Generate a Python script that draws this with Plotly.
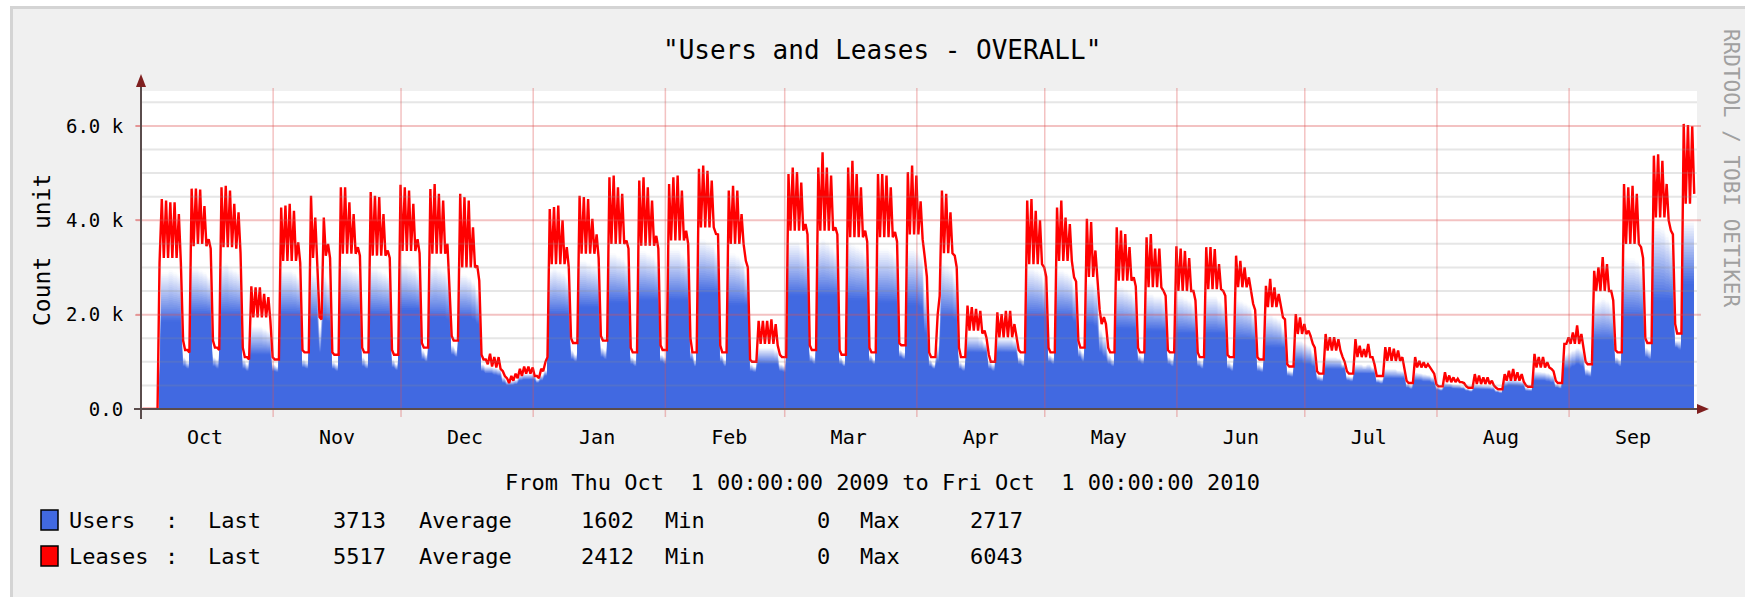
import datetime as dt
import plotly.graph_objects as go

# ---------------- data ----------------
START = dt.datetime(2009, 10, 1)
END = dt.datetime(2010, 10, 1)

month_names = ["Oct", "Nov", "Dec", "Jan", "Feb", "Mar", "Apr", "May", "Jun", "Jul", "Aug", "Sep"]
month_starts = [(2009, 10), (2009, 11), (2009, 12), (2010, 1), (2010, 2), (2010, 3),
                (2010, 4), (2010, 5), (2010, 6), (2010, 7), (2010, 8), (2010, 9)]

y_tick_vals = [0, 2000, 4000, 6000]
y_tick_text = ["0.0", "2.0 k", "4.0 k", "6.0 k"]

# one value per day, Oct 1 2009 .. Sep 30 2010 ; lines = weeks (Mon..Sun)
leases_peak = [
    0, 0, 0, 0,
    4450, 4420, 4380, 4380, 4130, 1450, 1250,
    4670, 4670, 4650, 4300, 3600, 1450, 1300,
    4700, 4730, 4630, 4350, 4170, 1300, 1100,
    2600, 2580, 2580, 2440, 2370, 1100, 1050,
    4270, 4310, 4350, 4200, 3530, 1250, 1200,
    4520, 4060, 1950, 4060, 3500, 1200, 1150,
    4700, 4700, 4380, 4130, 3430, 1300, 1200,
    4600, 4520, 4490, 4130, 3360, 1250, 1150,
    4750, 4700, 4630, 4350, 3600, 1400, 1300,
    4660, 4770, 4560, 4420, 3500, 1550, 1450,
    4560, 4490, 4420, 3850, 3040, 1150, 1050,
    1170, 1100, 1100, 800, 650, 700, 750,
    850, 900, 900, 880, 700, 850, 1000,
    4240, 4280, 4310, 4000, 3430, 1500, 1400,
    4520, 4490, 4450, 4030, 3700, 1550, 1450,
    4910, 4950, 4700, 4560, 3570, 1300, 1200,
    4840, 4910, 4700, 4420, 3670, 1350, 1250,
    4770, 4910, 4950, 4630, 3780, 1500, 1200,
    5090, 5160, 5050, 4840, 3710, 1350, 1200,
    4630, 4730, 4630, 4130, 3140, 1050, 1000,
    1870, 1870, 1870, 1900, 1800, 1150, 1100,
    4980, 5120, 5020, 4800, 3920, 1350, 1250,
    5120, 5440, 5120, 4950, 3850, 1250, 1150,
    5120, 5260, 4980, 4700, 3780, 1300, 1200,
    4980, 4980, 4950, 4700, 3750, 1400, 1350,
    5020, 5160, 4950, 4400, 3200, 1200, 1100,
    2000, 4630, 4560, 4170, 3250, 1300, 1100,
    2190, 2160, 2120, 2080, 1660, 1150, 1000,
    2050, 2010, 2080, 2080, 1800, 1250, 1200,
    4420, 4450, 4200, 4000, 3000, 1300, 1200,
    4270, 4420, 4060, 3920, 2790, 1450, 1300,
    4030, 3960, 3360, 2100, 1950, 1300, 1200,
    3850, 3780, 3710, 3430, 2790, 1300, 1200,
    3640, 3710, 3400, 3400, 2500, 1250, 1200,
    3450, 3400, 3350, 3200, 2500, 1200, 1100,
    3430, 3430, 3390, 3070, 2500, 1150, 1100,
    3250, 3140, 3000, 2790, 2230, 1100, 1050,
    2610, 2760, 2580, 2440, 1940, 950, 900,
    2010, 1940, 1800, 1660, 1380, 800, 750,
    1590, 1520, 1520, 1480, 1100, 800, 750,
    1480, 1340, 1270, 1380, 1100, 700, 700,
    1310, 1310, 1280, 1240, 1100, 600, 550,
    1100, 1020, 990, 950, 810, 520, 480,
    780, 710, 670, 640, 570, 480, 450,
    740, 710, 670, 670, 600, 450, 420,
    740, 810, 850, 780, 740, 500, 470,
    1170, 1100, 1100, 990, 850, 600, 550,
    1380, 1520, 1620, 1770, 1590, 1000, 950,
    2930, 3000, 3220, 3070, 2500, 1250, 1200,
    4770, 4700, 4730, 4560, 3430, 1500, 1400,
    5370, 5400, 5260, 4770, 3780, 1800, 1600,
    6043, 6020, 5990, None,
]

leases_night = [
    0, 0, 0, 0,
    3100, 3200, 3200, 3200, 3200, 3100, 1250,
    1200, 3450, 3500, 3500, 3450, 3400, 1300,
    1250, 3430, 3430, 3430, 3400, 3300, 1100,
    1050, 1940, 1940, 1940, 1940, 1870, 1050,
    1050, 3140, 3140, 3140, 3140, 3100, 1200,
    1200, 3200, 3000, 1900, 3250, 3200, 1150,
    1150, 3290, 3290, 3290, 3290, 3250, 1200,
    1200, 3250, 3250, 3250, 3250, 3200, 1150,
    1150, 3350, 3350, 3350, 3350, 3300, 1300,
    1300, 3290, 3290, 3290, 3290, 2500, 1450,
    1450, 3000, 3000, 3000, 3000, 2720, 1050,
    950, 900, 880, 850, 700, 550, 600,
    650, 700, 750, 750, 700, 650, 800,
    1100, 3070, 3070, 3070, 3070, 3000, 1400,
    1400, 3290, 3290, 3290, 3290, 3200, 1450,
    1450, 3500, 3500, 3500, 3500, 3400, 1200,
    1200, 3460, 3460, 3460, 3460, 3400, 1250,
    1250, 3570, 3570, 3570, 3570, 3500, 1200,
    1200, 3850, 3850, 3850, 3850, 3700, 1200,
    1200, 3500, 3500, 3500, 3500, 3000, 1000,
    1000, 1380, 1380, 1380, 1380, 1350, 1100,
    1100, 3780, 3780, 3780, 3780, 3700, 1250,
    1250, 3780, 3780, 3780, 3780, 3700, 1150,
    1150, 3640, 3640, 3640, 3640, 3550, 1200,
    1200, 3640, 3640, 3640, 3640, 3550, 1350,
    1350, 3700, 3700, 3700, 3600, 2800, 1100,
    1100, 2400, 3300, 3300, 3300, 3000, 1100,
    1100, 1660, 1660, 1660, 1600, 1500, 1000,
    1000, 1520, 1520, 1520, 1520, 1500, 1200,
    1200, 3070, 3070, 3070, 3070, 2800, 1200,
    1200, 3140, 3140, 3140, 3140, 2700, 1300,
    1300, 2800, 2800, 2700, 1800, 1800, 1200,
    1200, 2720, 2720, 2720, 2720, 2600, 1200,
    1200, 2580, 2580, 2580, 2580, 2400, 1200,
    1200, 2500, 2500, 2500, 2500, 2300, 1100,
    1100, 2540, 2540, 2540, 2540, 2400, 1100,
    1100, 2580, 2580, 2580, 2500, 2100, 1050,
    1050, 2160, 2160, 2160, 2160, 1900, 900,
    900, 1590, 1590, 1590, 1550, 1300, 750,
    750, 1240, 1240, 1240, 1240, 1000, 750,
    750, 1100, 1100, 1100, 1100, 950, 700,
    700, 1020, 1020, 1020, 1020, 900, 550,
    550, 880, 880, 880, 880, 750, 480,
    480, 570, 570, 570, 570, 550, 450,
    450, 530, 530, 530, 530, 500, 420,
    420, 600, 600, 600, 600, 580, 470,
    470, 880, 880, 880, 880, 800, 550,
    550, 1380, 1380, 1380, 1380, 1300, 950,
    950, 2500, 2500, 2500, 2500, 2300, 1200,
    1200, 3500, 3500, 3500, 3500, 3200, 1400,
    1400, 4060, 4060, 4060, 4000, 3700, 1600,
    1600, 4350, 4350, 4560,
]

users_low = [
    0, 0, 0, 0,
    1850, 1850, 1850, 1850, 1850, 900, 850,
    2000, 2000, 2000, 2000, 2000, 900, 850,
    2000, 2000, 2000, 2000, 2000, 850, 800,
    1150, 1150, 1150, 1150, 1150, 800, 780,
    2000, 2000, 2000, 2000, 2000, 880, 850,
    1900, 1900, 1200, 1900, 1850, 850, 800,
    2000, 2000, 2000, 2000, 2000, 900, 850,
    2000, 2000, 2000, 2000, 2000, 880, 820,
    2100, 2100, 2100, 2100, 2100, 1050, 1000,
    1950, 1950, 1950, 1950, 1900, 1150, 1100,
    1950, 1950, 1950, 1900, 1800, 800, 750,
    750, 720, 700, 550, 500, 500, 520,
    600, 620, 620, 620, 550, 600, 700,
    2000, 2000, 2000, 2000, 2000, 1050, 1000,
    2150, 2150, 2150, 2150, 2150, 1100, 1050,
    2250, 2250, 2250, 2250, 2250, 950, 900,
    2300, 2300, 2300, 2300, 2300, 1000, 950,
    2300, 2300, 2300, 2300, 2300, 1050, 900,
    2450, 2450, 2450, 2450, 2450, 1000, 900,
    2200, 2200, 2200, 2200, 2200, 800, 780,
    950, 950, 950, 950, 950, 800, 780,
    2400, 2400, 2400, 2400, 2400, 1000, 950,
    2400, 2400, 2400, 2400, 2400, 950, 900,
    2300, 2300, 2300, 2300, 2300, 1000, 950,
    2250, 2250, 2250, 2250, 2250, 1100, 1050,
    2200, 2200, 2200, 2150, 1600, 900, 850,
    1000, 1950, 1950, 1950, 1900, 850, 800,
    1200, 1200, 1200, 1200, 1200, 850, 800,
    1200, 1200, 1200, 1200, 1200, 950, 900,
    1950, 1950, 1950, 1950, 1950, 1000, 950,
    1950, 1950, 1950, 1950, 1850, 1100, 1000,
    1800, 1800, 1750, 1200, 1100, 950, 900,
    1700, 1700, 1700, 1700, 1700, 1000, 950,
    1650, 1650, 1650, 1650, 1650, 950, 900,
    1600, 1600, 1600, 1600, 1600, 900, 850,
    1600, 1600, 1600, 1600, 1600, 850, 800,
    1450, 1450, 1450, 1450, 1450, 800, 780,
    1300, 1300, 1300, 1300, 1300, 700, 680,
    1000, 1000, 950, 950, 900, 600, 580,
    850, 850, 850, 850, 850, 600, 580,
    750, 750, 750, 750, 750, 550, 530,
    650, 650, 650, 650, 650, 450, 420,
    600, 600, 580, 580, 550, 400, 380,
    450, 450, 430, 430, 420, 380, 360,
    420, 420, 410, 410, 400, 350, 330,
    480, 500, 500, 490, 480, 380, 370,
    600, 600, 600, 580, 560, 450, 430,
    850, 850, 900, 950, 900, 700, 680,
    1450, 1450, 1450, 1450, 1450, 950, 900,
    1950, 1950, 1950, 1950, 1950, 1100, 1050,
    2300, 2300, 2300, 2300, 2300, 1300, 1250,
    2650, 2650, 2650, None,
]

users_high = [
    0, 0, 0, 0,
    2900, 2900, 2950, 2900, 2850, 1100, 1000,
    3000, 3000, 2950, 2900, 2800, 1100, 1050,
    3050, 3100, 3000, 2950, 2900, 1050, 950,
    1750, 1750, 1750, 1700, 1650, 950, 900,
    2950, 2950, 2950, 2900, 2800, 1050, 1000,
    2900, 2850, 1750, 2850, 2700, 1000, 950,
    3050, 3050, 3000, 2950, 2900, 1100, 1000,
    3000, 3000, 2950, 2900, 2850, 1050, 950,
    3100, 3100, 3050, 3000, 2900, 1250, 1150,
    3000, 3050, 3000, 2950, 2850, 1350, 1250,
    2850, 2850, 2800, 2700, 2500, 950, 900,
    900, 880, 850, 680, 580, 600, 620,
    720, 750, 760, 750, 620, 720, 820,
    2950, 3000, 2950, 2900, 2800, 1250, 1150,
    3150, 3150, 3100, 3050, 3000, 1300, 1250,
    3300, 3300, 3250, 3200, 3100, 1100, 1050,
    3350, 3350, 3300, 3250, 3150, 1150, 1100,
    3400, 3400, 3400, 3300, 3200, 1250, 1050,
    3600, 3600, 3550, 3500, 3350, 1150, 1050,
    3300, 3300, 3250, 3150, 2900, 950, 900,
    1300, 1300, 1300, 1300, 1250, 950, 920,
    3550, 3550, 3550, 3450, 3350, 1150, 1100,
    3550, 3600, 3550, 3450, 3350, 1100, 1000,
    3550, 3500, 3450, 3400, 3300, 1150, 1050,
    3400, 3400, 3400, 3350, 3250, 1250, 1200,
    3400, 3400, 3350, 3250, 2500, 1050, 950,
    1350, 3100, 3050, 3000, 2800, 1000, 950,
    1550, 1550, 1550, 1500, 1400, 1000, 950,
    1500, 1500, 1500, 1500, 1450, 1100, 1050,
    3000, 3000, 2950, 2900, 2700, 1150, 1100,
    2950, 2950, 2900, 2850, 2600, 1300, 1200,
    2700, 2700, 2600, 1700, 1550, 1150, 1050,
    2600, 2600, 2550, 2500, 2400, 1150, 1100,
    2450, 2450, 2400, 2400, 2300, 1100, 1050,
    2400, 2400, 2350, 2300, 2200, 1050, 1000,
    2400, 2400, 2400, 2300, 2200, 1000, 950,
    2350, 2300, 2250, 2200, 2000, 950, 900,
    2000, 2000, 1950, 1900, 1700, 820, 800,
    1450, 1450, 1400, 1350, 1200, 720, 680,
    1100, 1100, 1100, 1080, 950, 700, 680,
    950, 950, 920, 950, 880, 640, 620,
    850, 850, 850, 820, 800, 540, 500,
    780, 760, 740, 720, 680, 470, 440,
    560, 540, 520, 510, 480, 430, 410,
    520, 510, 500, 500, 480, 400, 380,
    600, 620, 630, 610, 590, 450, 430,
    800, 790, 780, 760, 720, 530, 500,
    1150, 1200, 1250, 1300, 1250, 850, 820,
    2250, 2300, 2350, 2300, 2200, 1100, 1050,
    3250, 3200, 3200, 3150, 3000, 1300, 1250,
    3900, 3900, 3850, 3700, 3500, 1450, 1450,
    4000, 4000, 4000, None,
]

legend_names = ["Users", "Leases"]
legend_colors = ["#4169E1", "#FF0000"]
legend_last = [3713, 5517]
legend_avg = [1602, 2412]
legend_min = [0, 0]
legend_max = [2717, 6043]

title_text = '"Users and Leases - OVERALL"'
y_title = "Count\u00a0\u00a0unit"
period_text = "From Thu Oct\u00a0\u00a01 00:00:00 2009 to Fri Oct\u00a0\u00a01 00:00:00 2010"
credit_text = "RRDTOOL / TOBI OETIKER"

assert len(leases_peak) == len(leases_night) == len(users_low) == len(users_high) == 365

# ---------------- geometry helpers ----------------
FIG_W, FIG_H = 1745, 597
L, R, T, B = 141, 1697, 91, 409
W, H = R - L, B - T
FONT = "DejaVu Sans Mono"


def xp(px):
    return (px - L) / W


def yp(py):
    return (B - py) / H


def at(day):
    return START + dt.timedelta(days=day)


# ---------------- traces ----------------
ux, ulo, uhi = [], [], []
for i, (lo, hi) in enumerate(zip(users_low, users_high)):
    if lo is None:
        continue
    for off in (0.75, 1.25):
        ux.append(at(i + off))
        ulo.append(lo)
        uhi.append(hi)

lx, ly = [], []
for i, (nv, pv) in enumerate(zip(leases_night, leases_peak)):
    if nv is not None:
        lx.append(at(i + 0.35))
        ly.append(nv)
    if pv is not None:
        lx.append(at(i + 0.88))
        ly.append(pv)

BLUE = (65, 105, 225)


def mix(f):
    return "rgb(%d,%d,%d)" % tuple(round(c + (255 - c) * f) for c in BLUE)


fig = go.Figure()
# Users: gradient from the nightly level (solid blue) up to the daily high (white).
# Drawn from the lightest/highest layer down, each filled to zero, so no seams appear.
NB = 24
for k in range(NB, 0, -1):
    lev = [a + (b - a) * k / NB for a, b in zip(ulo, uhi)]
    fig.add_trace(go.Scatter(x=ux, y=lev, mode="lines", line=dict(width=0),
                             fill="tozeroy", fillcolor=mix((k - 0.5) / NB),
                             hoverinfo="skip", showlegend=False))
fig.add_trace(go.Scatter(x=ux, y=ulo, mode="lines", line=dict(width=0),
                         fill="tozeroy", fillcolor=mix(0), hoverinfo="skip",
                         showlegend=False, name="Users"))
fig.add_trace(go.Scatter(x=lx, y=ly, mode="lines", line=dict(color="#FF0000", width=2.4),
                         hoverinfo="skip", showlegend=False, name="Leases"))

# ---------------- shapes ----------------
shapes = []
# outer page frame
shapes.append(dict(type="rect", xref="paper", yref="paper", x0=xp(0), x1=xp(FIG_W),
                   y0=yp(0), y1=yp(6), fillcolor="white", line=dict(width=0), layer="below"))
shapes.append(dict(type="rect", xref="paper", yref="paper", x0=xp(0), x1=xp(10),
                   y0=yp(0), y1=yp(FIG_H), fillcolor="white", line=dict(width=0), layer="below"))
shapes.append(dict(type="rect", xref="paper", yref="paper", x0=xp(10), x1=xp(FIG_W),
                   y0=yp(6), y1=yp(9), fillcolor="#D4D4D4", line=dict(width=0), layer="below"))
shapes.append(dict(type="rect", xref="paper", yref="paper", x0=xp(10), x1=xp(13),
                   y0=yp(6), y1=yp(FIG_H), fillcolor="#D4D4D4", line=dict(width=0), layer="below"))

# horizontal grid
for v in range(500, 6740, 500):
    if v % 2000 == 0:
        shapes.append(dict(type="line", xref="paper", yref="y", x0=xp(L - 5), x1=xp(R + 4),
                           y0=v, y1=v, line=dict(color="rgba(222,79,79,0.35)", width=2),
                           layer="above"))
    else:
        shapes.append(dict(type="line", xref="paper", yref="y", x0=0, x1=1,
                           y0=v, y1=v, line=dict(color="rgba(140,140,140,0.22)", width=2),
                           layer="above"))
# vertical month grid
for (yy, mm) in month_starts[1:]:
    shapes.append(dict(type="line", xref="x", yref="paper", x0=dt.datetime(yy, mm, 1),
                       x1=dt.datetime(yy, mm, 1), y0=yp(417), y1=yp(88),
                       line=dict(color="rgba(222,79,79,0.35)", width=1.5), layer="above"))

AXC = "#5a4c4c"
ARC = "#7f1f1f"
shapes.append(dict(type="line", xref="paper", yref="paper", x0=xp(L), x1=xp(L),
                   y0=yp(419), y1=yp(84), line=dict(color=AXC, width=2), layer="above"))
shapes.append(dict(type="line", xref="paper", yref="paper", x0=xp(134), x1=xp(1700),
                   y0=yp(B), y1=yp(B), line=dict(color=AXC, width=2), layer="above"))
shapes.append(dict(type="path", xref="paper", yref="paper",
                   path="M %f %f L %f %f L %f %f Z" % (xp(L - 5), yp(87), xp(L + 5), yp(87), xp(L), yp(74)),
                   fillcolor=ARC, line=dict(width=0), layer="above"))
shapes.append(dict(type="path", xref="paper", yref="paper",
                   path="M %f %f L %f %f L %f %f Z" % (xp(1697), yp(B - 5), xp(1697), yp(B + 5), xp(1709), yp(B)),
                   fillcolor=ARC, line=dict(width=0), layer="above"))

# legend swatches
for j, col in enumerate(legend_colors):
    top = 510 + j * 36
    shapes.append(dict(type="rect", xref="paper", yref="paper", x0=xp(41), x1=xp(58),
                       y0=yp(top + 20), y1=yp(top), fillcolor=col,
                       line=dict(color="black", width=1.5), layer="above"))

# ---------------- annotations ----------------
ann = []


def text(s, px, py, size, xanchor="center", angle=0, color="#000000"):
    ann.append(dict(text=s, x=xp(px), y=yp(py), xref="paper", yref="paper",
                    xanchor=xanchor, yanchor="middle", showarrow=False, textangle=angle,
                    font=dict(family=FONT, size=size, color=color)))


text(title_text, 882, 50, 26)
text(y_title, 42, 250, 23, angle=-90)
text(credit_text, 1731, 168, 21, angle=90, color="#a0a0a0")
text(period_text, 882, 482, 22)
for j in range(2):
    cy = 520 + j * 36.5
    text(legend_names[j], 67, cy, 22, "left")
    text(":", 171, cy, 22)
    text("Last", 206, cy, 22, "left")
    text(str(legend_last[j]), 388, cy, 22, "right")
    text("Average", 417, cy, 22, "left")
    text(str(legend_avg[j]), 636, cy, 22, "right")
    text("Min", 663, cy, 22, "left")
    text(str(legend_min[j]), 832, cy, 22, "right")
    text("Max", 858, cy, 22, "left")
    text(str(legend_max[j]), 1025, cy, 22, "right")

fig.update_layout(
    width=FIG_W, height=FIG_H,
    margin=dict(l=L, r=FIG_W - R, t=T, b=FIG_H - B, pad=0),
    paper_bgcolor="#F0F0F0", plot_bgcolor="white",
    showlegend=False,
    shapes=shapes, annotations=ann,
    xaxis=dict(type="date", range=[START, END], showgrid=False, zeroline=False,
               showline=False, ticks="", tickvals=[dt.datetime(y, m, 16) for y, m in month_starts],
               ticktext=month_names, tickfont=dict(family=FONT, size=20, color="#000"),
               ticklabelstandoff=14, fixedrange=True),
    yaxis=dict(range=[0, 6740], showgrid=False, zeroline=False, showline=False,
               tickvals=y_tick_vals, ticktext=y_tick_text, ticks="outside", ticklen=5,
               tickwidth=2, tickcolor="rgba(222,79,79,0.35)",
               tickfont=dict(family=FONT, size=19, color="#000"),
               ticklabelstandoff=8, fixedrange=True),
)

fig.write_html("out.html", config={"displayModeBar": False, "staticPlot": True},
               post_script="document.body.style.margin='0';document.body.style.overflow='hidden';")
